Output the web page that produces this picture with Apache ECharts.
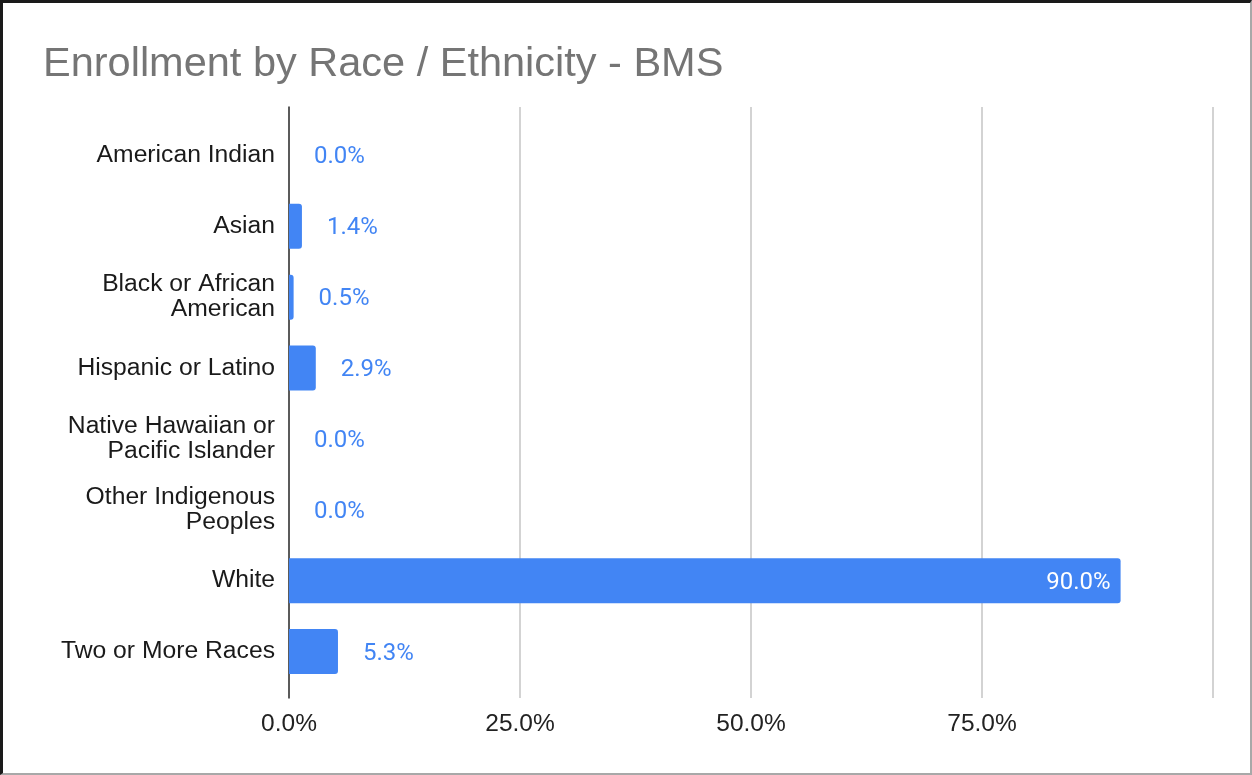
<!DOCTYPE html>
<html>
<head>
<meta charset="utf-8">
<script src="https://cdn.jsdelivr.net/npm/echarts@6/dist/echarts.min.js"></script>
<style>
  html, body { margin: 0; padding: 0; background: #fff; }
  #frame { position: absolute; left: 0; top: 0; width: 1252px; height: 775px; box-sizing: border-box;
           border-left: 3px solid #1a1a1a; border-top: 3px solid #1a1a1a;
           border-right: 2px solid #a8a8a8; border-bottom: 2px solid #a8a8a8; }
  #chart { position: absolute; left: 0; top: 0; width: 1252px; height: 775px; }
</style>
</head>
<body>
<div id="chart"></div>
<div id="frame"></div>
<script>
const titleText = 'Enrollment by Race / Ethnicity - BMS';
const categories = [
  'American Indian',
  'Asian',
  'Black or African\nAmerican',
  'Hispanic or Latino',
  'Native Hawaiian or\nPacific Islander',
  'Other Indigenous\nPeoples',
  'White',
  'Two or More Races'
];
const values = [0.0, 1.4, 0.5, 2.9, 0.0, 0.0, 90.0, 5.3];
const xTicks = [0, 25, 50, 75, 100];

const chart = echarts.init(document.getElementById('chart'), null, { renderer: 'canvas' });

const seriesData = values.map((v, i) => {
  const item = { value: v };
  if (v > 50) {
    item.label = { position: 'insideRight', color: '#ffffff', distance: 10 };
  }
  return item;
});

chart.setOption({
  animation: false,
  backgroundColor: '#ffffff',
  title: {
    text: titleText,
    left: 43,
    top: 44,
    padding: 0,
    textStyle: { fontFamily: 'Liberation Sans', fontSize: 41.5, fontWeight: 'normal', color: '#757575' }
  },
  grid: [
    { left: 289, right: 39, top: 107, bottom: 77, containLabel: false },
    { left: 289, right: 39, top: 120, bottom: 88, containLabel: false }
  ],
  xAxis: [
    {
      gridIndex: 0, type: 'value', min: xTicks[0], max: xTicks[xTicks.length - 1], interval: 25,
      axisLine: { show: false }, axisTick: { show: false },
      splitLine: { show: true, lineStyle: { color: '#d3d3d3', width: 2 } },
      axisLabel: {
        margin: 14, fontFamily: 'Liberation Sans', fontSize: 24.5, color: '#222222',
        formatter: v => (v >= 100 ? '' : v.toFixed(1) + '%')
      }
    },
    {
      gridIndex: 1, type: 'value', min: xTicks[0], max: xTicks[xTicks.length - 1],
      show: false
    }
  ],
  yAxis: [
    {
      gridIndex: 0, type: 'value', min: 0, max: 1,
      axisLine: { show: true, onZero: false, lineStyle: { color: '#333333', width: 1.5 } },
      axisTick: { show: false }, axisLabel: { show: false }, splitLine: { show: false }
    },
    {
      gridIndex: 1, type: 'category', data: categories, inverse: true,
      axisLine: { show: false }, axisTick: { show: false }, splitLine: { show: false },
      axisLabel: {
        margin: 14, fontFamily: 'Liberation Sans', fontSize: 24.7, lineHeight: 25,
        color: '#1a1a1a', align: 'right', verticalAlign: 'middle', padding: [8, 0, 0, 0]
      }
    }
  ],
  series: [
    {
      type: 'bar', xAxisIndex: 1, yAxisIndex: 1,
      data: seriesData,
      barWidth: 45,
      itemStyle: { color: '#4285f4', borderRadius: [0, 3, 3, 0] },
      label: {
        show: true, position: 'right', distance: 25, offset: [0, 2],
        fontFamily: 'Roboto', fontSize: 24, color: '#4285f4',
        formatter: p => p.value.toFixed(1) + '%'
      }
    }
  ]
});
</script>
</body>
</html>
